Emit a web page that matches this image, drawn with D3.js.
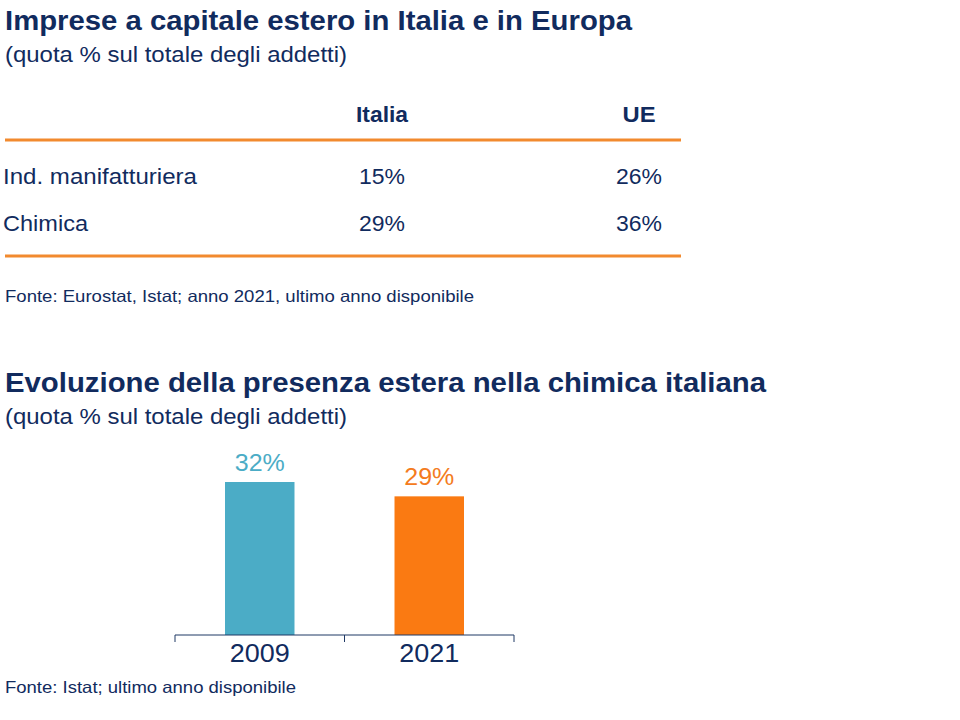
<!DOCTYPE html>
<html><head><meta charset="utf-8">
<script src="https://cdn.jsdelivr.net/npm/d3@7"></script>
<style>body{margin:0;background:#fff}svg{display:block}text{font-family:"Liberation Sans",Arial,sans-serif}</style>
</head><body>
<svg id="c" width="960" height="720"></svg>
<script>
const rowLabels = ["Ind. manifatturiera", "Chimica"];
const colLabels = ["Italia", "UE"];
const italiaValues = [15, 29];
const ueValues = [26, 36];
const years = ["2009", "2021"];
const chemShare = [32, 29];

const navy = "#112B5E", orange = "#F28A2E", teal = "#4BACC6", barOrange = "#FA7A12";
const svg = d3.select("#c");

function txt(x, y, s, size, opts = {}) {
  const t = svg.append("text").attr("x", x).attr("y", y).attr("font-size", size)
    .attr("fill", opts.fill || navy).text(s);
  if (opts.bold) t.attr("font-weight", "bold");
  if (opts.anchor) t.attr("text-anchor", opts.anchor);
  if (opts.len) t.attr("textLength", opts.len).attr("lengthAdjust", "spacingAndGlyphs");
  return t;
}

// Section 1
txt(5, 30, "Imprese a capitale estero in Italia e in Europa", 27.5, {bold: true, len: 627});
txt(5, 62, "(quota % sul totale degli addetti)", 22, {len: 342});

const colX = d3.scalePoint().domain(colLabels).range([382, 639]);
const rowY = d3.scalePoint().domain(rowLabels).range([184, 231]);
const hdrLen = {"Italia": 52, "UE": 33};

svg.selectAll(".colh").data(colLabels).join("text")
  .attr("x", d => colX(d)).attr("y", 122).attr("text-anchor", "middle")
  .attr("font-size", 22).attr("font-weight", "bold").attr("fill", navy)
  .attr("textLength", d => hdrLen[d]).attr("lengthAdjust", "spacingAndGlyphs").text(d => d);

[140, 256].forEach(y => svg.append("line").attr("x1", 5).attr("x2", 681).attr("y1", y).attr("y2", y)
  .attr("stroke", orange).attr("stroke-width", 3));

const rowLen = {"Ind. manifatturiera": 194, "Chimica": 85};
svg.selectAll(".rowl").data(rowLabels).join("text")
  .attr("x", 3).attr("y", d => rowY(d)).attr("font-size", 22).attr("fill", navy)
  .attr("textLength", d => rowLen[d]).attr("lengthAdjust", "spacingAndGlyphs").text(d => d);

const cells = [];
rowLabels.forEach((r, i) => {
  cells.push({row: r, col: "Italia", v: italiaValues[i]});
  cells.push({row: r, col: "UE", v: ueValues[i]});
});
svg.selectAll(".cell").data(cells).join("text")
  .attr("x", d => colX(d.col)).attr("y", d => rowY(d.row)).attr("text-anchor", "middle")
  .attr("font-size", 22).attr("fill", navy)
  .attr("textLength", 46).attr("lengthAdjust", "spacingAndGlyphs").text(d => d.v + "%");

txt(5, 302, "Fonte: Eurostat, Istat; anno 2021, ultimo anno disponibile", 16.5, {len: 469});

// Section 2
txt(5, 392, "Evoluzione della presenza estera nella chimica italiana", 27.5, {bold: true, len: 761});
txt(5, 424, "(quota % sul totale degli addetti)", 22, {len: 342});

const x = d3.scaleBand().domain(years).range([175, 514]).padding(0);
const y = d3.scaleLinear().domain([0, 32]).range([635, 482]);
const barW = x.bandwidth() * 0.41;
const colors = [teal, barOrange];
const labelColors = [teal, "#F47B20"];

svg.selectAll(".bar").data(years).join("rect")
  .attr("x", d => x(d) + x.bandwidth() / 2 - barW / 2)
  .attr("y", (d, i) => y(chemShare[i]))
  .attr("width", barW)
  .attr("height", (d, i) => y(0) - y(chemShare[i]))
  .attr("fill", (d, i) => colors[i]);

svg.selectAll(".blab").data(years).join("text")
  .attr("x", d => x(d) + x.bandwidth() / 2)
  .attr("y", (d, i) => y(chemShare[i]) - 11)
  .attr("text-anchor", "middle").attr("font-size", 23)
  .attr("textLength", 50).attr("lengthAdjust", "spacingAndGlyphs")
  .attr("fill", (d, i) => labelColors[i]).text((d, i) => chemShare[i] + "%");

const ax = svg.append("g").attr("transform", "translate(0,635)");
ax.append("line").attr("x1", 175).attr("x2", 514).attr("stroke", "#1F3864").attr("stroke-width", 1);
const bounds = years.map(d => x(d)).concat([x.range()[1]]);
ax.selectAll(".tk").data(bounds).join("line")
  .attr("x1", d => d).attr("x2", d => d).attr("y1", 0).attr("y2", 7)
  .attr("stroke", "#1F3864").attr("stroke-width", 1);
ax.selectAll(".yl").data(years).join("text")
  .attr("x", d => x(d) + x.bandwidth() / 2).attr("y", 27).attr("text-anchor", "middle")
  .attr("font-size", 25).attr("fill", navy)
  .attr("textLength", 60).attr("lengthAdjust", "spacingAndGlyphs").text(d => d);

txt(5, 693, "Fonte: Istat; ultimo anno disponibile", 16.5, {len: 291});
</script>
</body></html>
